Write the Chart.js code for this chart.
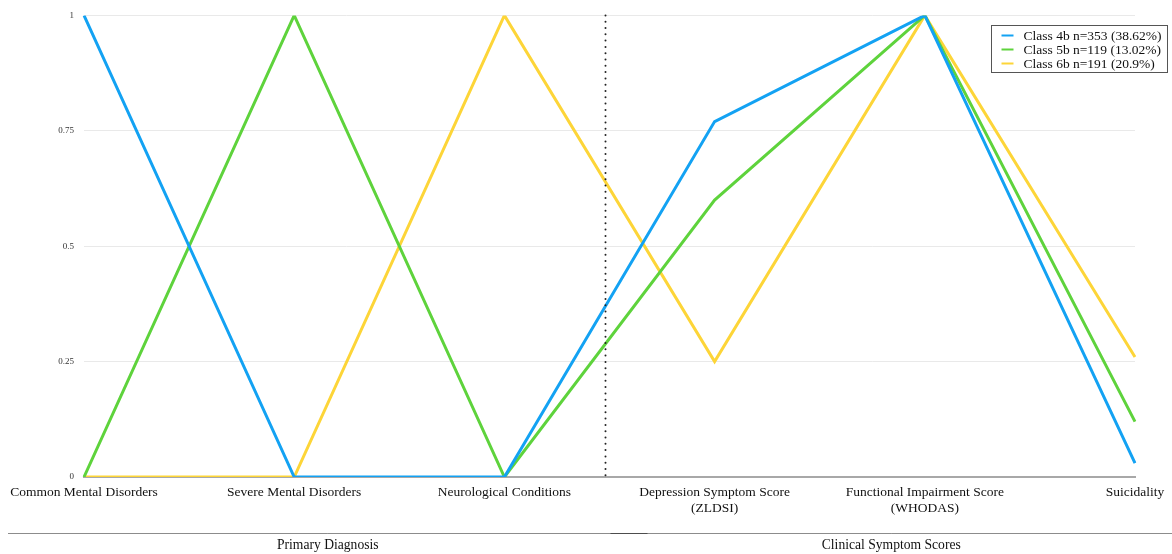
<!DOCTYPE html>
<html>
<head>
<meta charset="utf-8">
<script src="https://cdn.jsdelivr.net/npm/chart.js@4.4.1/dist/chart.umd.min.js"></script>
<style>
  html, body { margin: 0; padding: 0; background: #ffffff; }
  #wrap { width: 1172px; height: 554px; position: relative; }
</style>
</head>
<body>
<div id="wrap"><canvas id="profile"></canvas></div>
<script>
// Indicator categories (multi-line labels are arrays)
const categories = [
  ['Common Mental Disorders'],
  ['Severe Mental Disorders'],
  ['Neurological Conditions'],
  ['Depression Symptom Score', '(ZLDSI)'],
  ['Functional Impairment Score', '(WHODAS)'],
  ['Suicidality']
];

// Class profiles (scaled 0–1)
const class4b = [1, 0, 0, 0.77, 1, 0.03];
const class5b = [0, 1, 0, 0.60, 1, 0.12];
const class6b = [0, 0, 1, 0.25, 1, 0.26];

const seriesNames = [
  'Class 4b n=353 (38.62%)',
  'Class 5b n=119 (13.02%)',
  'Class 6b n=191 (20.9%)'
];
const seriesColors = ['#13a2f3', '#5ed33c', '#fdd538'];

// Y-axis tick values
const yTickValues = [0, 0.25, 0.5, 0.75, 1];

// Indicator groups shown beneath the axis
const groupNames = ['Primary Diagnosis', 'Clinical Symptom Scores'];
// Divider between the two groups, in category-index units
const dividerAt = 2.48;

const SERIF = '"Liberation Serif", "DejaVu Serif", serif';

const decorations = {
  id: 'decorations',
  afterDraw(chart) {
    const ctx = chart.ctx;
    const area = chart.chartArea;
    const x = chart.scales.x;
    const divX = Math.round(x.getPixelForValue(dividerAt)) + 0.5;

    ctx.save();
    // dotted divider
    ctx.strokeStyle = '#222';
    ctx.lineWidth = 2;
    ctx.lineCap = 'round';
    ctx.setLineDash([0, 6.3]);
    ctx.beginPath();
    ctx.moveTo(divX, area.top);
    ctx.lineTo(divX, area.bottom);
    ctx.stroke();
    ctx.setLineDash([]);
    ctx.lineCap = 'butt';

    // group rules and titles
    const ruleY = 533.5;
    const spans = [[8, divX + 42], [divX + 5, chart.width]];
    ctx.lineWidth = 1;
    ctx.strokeStyle = 'rgba(0,0,0,0.45)';
    ctx.fillStyle = '#111';
    ctx.font = '13.6px ' + SERIF;
    ctx.textAlign = 'center';
    ctx.textBaseline = 'middle';
    spans.forEach((s, i) => {
      ctx.beginPath();
      ctx.moveTo(s[0], ruleY);
      ctx.lineTo(s[1], ruleY);
      ctx.stroke();
      ctx.fillText(groupNames[i], (s[0] + s[1]) / 2, 545);
    });

    // legend box
    const bw = 176, bh = 47;
    const bx = chart.width - 5 - bw + 0.5, by = 25.5;
    ctx.fillStyle = '#fff';
    ctx.fillRect(bx, by, bw, bh);
    ctx.strokeStyle = '#555';
    ctx.lineWidth = 1;
    ctx.strokeRect(bx, by, bw, bh);
    ctx.font = '13.5px ' + SERIF;
    ctx.textAlign = 'left';
    chart.data.datasets.forEach((ds, i) => {
      const cy = by + 10 + i * 14;
      ctx.strokeStyle = ds.borderColor;
      ctx.lineWidth = 2;
      ctx.beginPath();
      ctx.moveTo(bx + 10, cy);
      ctx.lineTo(bx + 22, cy);
      ctx.stroke();
      ctx.fillStyle = '#111';
      ctx.fillText(ds.label, bx + 32, cy + 0.5);
    });
    ctx.restore();
  }
};

const datasets = [class4b, class5b, class6b].map((vals, i) => ({
  label: seriesNames[i],
  data: vals,
  borderColor: seriesColors[i],
  backgroundColor: seriesColors[i],
  borderWidth: 3,
  pointRadius: 0,
  tension: 0,
  fill: false
}));

new Chart(document.getElementById('profile'), {
  type: 'line',
  data: { labels: categories, datasets },
  plugins: [decorations],
  options: {
    responsive: true,
    maintainAspectRatio: false,
    animation: false,
    layout: { padding: { left: 0, right: 37, top: 14, bottom: 0 } },
    plugins: {
      legend: { display: false },
      tooltip: { enabled: false }
    },
    scales: {
      x: {
        offset: false,
        grid: { display: false, drawTicks: false },
        border: { display: true, color: '#a8a8a8', width: 2 },
        ticks: {
          autoSkip: false,
          maxRotation: 0,
          padding: 7,
          color: '#111',
          font: { family: SERIF, size: 13.5 }
        },
        afterFit(scale) { scale.height = 77; }
      },
      y: {
        min: 0,
        max: 1,
        afterBuildTicks(scale) {
          scale.ticks = yTickValues.map(v => ({ value: v }));
        },
        ticks: {
          padding: 10,
          color: '#333',
          font: { family: SERIF, size: 9 },
          callback: (v) => String(v)
        },
        grid: { color: '#e9e9e9', drawTicks: false },
        border: { display: false },
        afterFit(scale) { scale.width = 84; }
      }
    }
  }
});
</script>
</body>
</html>
